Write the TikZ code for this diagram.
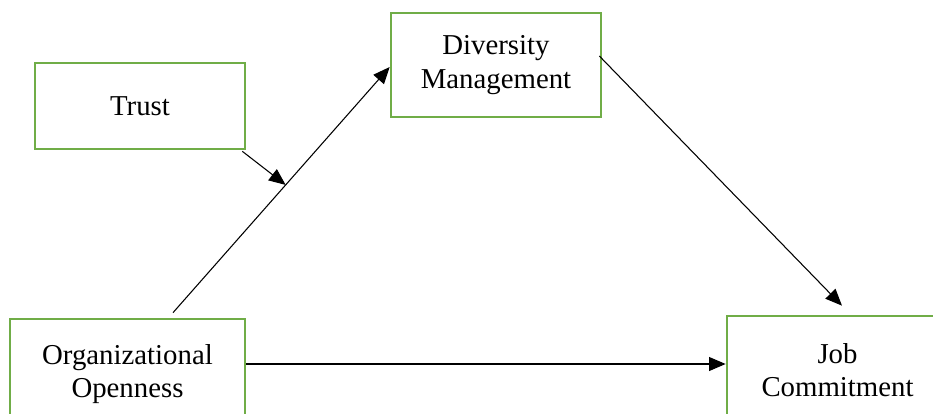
\documentclass[tikz,border=0pt]{standalone}
\usepackage{fontspec}
\setmainfont{Liberation Serif}
\usepackage{tikz}
\usetikzlibrary{positioning,arrows.meta}
\definecolor{boxgreen}{HTML}{70AD47}

\tikzset{
  factor/.style={draw=boxgreen, line width=2pt, rectangle, align=center, inner sep=0pt,
    font=\fontsize{21.6}{25}\selectfont},
  arr/.style={line width=0.8pt, -{Triangle[length=12.5pt,width=10.5pt]}}
}

\begin{document}
\begin{tikzpicture}[x=0.75pt,y=-0.75pt]
  \useasboundingbox (0,0) rectangle (933,414);
  \clip (0,0) rectangle (933,414);
  \node[factor, minimum width=157.5pt, minimum height=64.5pt] at(140,106)(trust){Trust};
  \node[factor, minimum width=157.5pt, minimum height=78pt] at(496,65)(dm){Diversity\\Management};
  \node[factor, minimum width=176.25pt, minimum height=82.5pt] at(127.5,374)(oo){Organizational\\Openness};
  \node[factor, minimum width=165.75pt, minimum height=81pt] at(837.5,370)(jc){Job\\Commitment};
  \draw [arr]([shift={(45.5,-5)}]oo.north) -- coordinate[pos=0.52](mid) ([shift={(0,2)}]dm.west);
  \draw [arr]([shift={(-4,1)}]trust.south east) -- (mid);
  \draw [arr]([shift={(-3,-9)}]dm.east) -- ([shift={(4.5,-9)}]jc.north);
  \draw [arr](oo.east) ++(0,-10) coordinate(ooe) -- (ooe -| jc.west);
\end{tikzpicture}
\end{document}
